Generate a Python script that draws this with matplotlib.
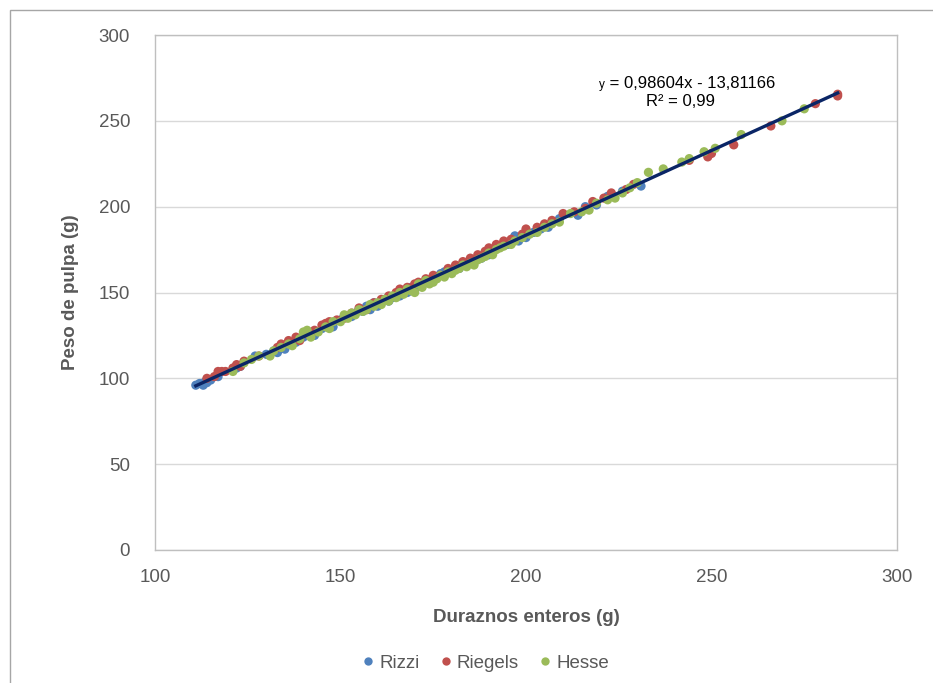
import matplotlib
matplotlib.use("Agg")
import matplotlib.pyplot as plt
from matplotlib.patches import Rectangle
from matplotlib.lines import Line2D
import numpy as np

plt.rcParams['font.family'] = ['Liberation Sans Narrow', 'Liberation Sans', 'DejaVu Sans']

rizzi_x = [111, 112, 113, 113.5, 114, 115, 117, 122, 123, 127, 130, 132, 133, 135, 138, 140, 142, 143, 145, 146,
           148, 150, 151, 153, 154, 156, 157, 158, 159, 160, 161, 162, 163, 164, 165, 166, 167, 168, 169, 170,
           171, 172, 173, 174, 175, 176, 177, 178, 179, 180, 181, 182, 183, 184, 185, 186, 188, 189, 190, 191,
           192, 193, 195, 197, 198, 200, 202, 204, 206, 209, 214, 216, 219, 222, 226, 231]
rizzi_y = [96, 97, 96, 98, 97.5, 99, 101, 106, 107, 113, 114, 116, 115, 117, 121, 124, 126, 125, 129, 131,
           130, 134, 136, 136, 138, 139, 142, 140, 144, 142, 145, 146, 145, 147, 149, 148, 151, 150, 153, 152,
           155, 154, 157, 156, 158, 159, 161, 162, 163, 162, 165, 164, 167, 166, 168, 169, 170, 173, 172, 175,
           176, 177, 178, 183, 180, 182, 185, 187, 188, 193, 195, 200, 201, 206, 209, 212]

riegels_x = [114, 116, 117, 118, 119, 121, 122, 123, 124, 128, 133, 134, 136, 138, 139, 141, 143, 145, 146, 147,
             149, 151, 153, 155, 157, 159, 161, 163, 165, 166, 168, 170, 171, 173, 175, 177, 179, 181, 183, 185,
             187, 189, 190, 192, 194, 196, 199, 200, 203, 205, 207, 210, 213, 216, 218, 221, 223, 227, 229, 244,
             249, 250, 256, 266, 278, 284, 284]
riegels_y = [100, 101, 104, 104, 104, 106, 108, 107, 110, 113, 118, 120, 122, 124, 122, 126, 128, 131, 132, 133,
             134, 135, 138, 141, 140, 144, 146, 148, 150, 152, 153, 155, 156, 158, 160, 160, 164, 166, 168, 170,
             172, 174, 176, 178, 180, 181, 184, 187, 188, 190, 192, 196, 197, 199, 203, 205, 208, 210, 213, 227,
             229, 231, 236, 247, 260, 264.5, 265.5]

hesse_x = [121, 124, 126, 128, 131, 132, 134, 136, 137, 139, 140, 141, 142, 144, 146, 147, 148, 150, 151, 152,
           153, 154, 155, 156, 157, 158, 159, 160, 161, 162, 163, 164, 165, 166, 167, 168, 169, 170, 171, 172,
           173, 174, 175, 176, 177, 178, 179, 180, 181, 182, 183, 184, 185, 186, 187, 188, 189, 190, 191, 192,
           193, 194, 196, 197, 199, 201, 203, 205, 207, 209, 212, 215, 217, 219, 222, 224, 226, 228, 230, 233,
           237, 242, 244, 248, 251, 258, 269, 275]
hesse_y = [104, 109, 111, 113, 113, 116, 118, 120, 119, 123, 127, 128, 124, 127, 130, 129, 133, 133, 137, 135,
           138, 137, 140, 139, 140, 143, 142, 144, 143, 146, 145, 148, 147, 150, 149, 152, 151, 150, 155, 153,
           157, 155, 156, 158, 160, 159, 162, 161, 163, 164, 166, 165, 167, 166, 169, 170, 171, 173, 172, 175,
           176, 177, 178, 180, 182, 184, 185, 188, 190, 191, 196, 197, 198, 202, 204, 205, 208, 211, 214, 220,
           222, 226, 228, 232, 234, 242, 250, 257]

series_names = ['Rizzi', 'Riegels', 'Hesse']
series_colors = ['#4F81BD', '#C0504D', '#9BBB59']
slope = 0.98604
intercept = -13.81166
trend_x = [111, 284]

fig = plt.figure(figsize=(9.33, 6.83), dpi=100)
# outer chart border
fig.patches.append(Rectangle((10/933, -0.1), 1.2, 1 - 10/683 + 0.1, transform=fig.transFigure,
                             fill=False, edgecolor='#A6A6A6', linewidth=1.0))
ax = fig.add_axes([155/933, 1 - 550/683, (897 - 155)/933, (550 - 35)/683])

for xs, ys, c in zip([rizzi_x, riegels_x, hesse_x], [rizzi_y, riegels_y, hesse_y], series_colors):
    ax.scatter(xs, ys, s=44, color=c, edgecolors='none', zorder=3)

tx = np.array(trend_x, dtype=float)
ax.plot(tx, slope * tx + intercept, color='#0A2566', linewidth=2.4, zorder=4)

ax.set_xlim(100, 300)
ax.set_ylim(0, 300)
ax.set_xticks([100, 150, 200, 250, 300])
ax.set_yticks([0, 50, 100, 150, 200, 250, 300])
ax.yaxis.grid(True, color='#D9D9D9', linewidth=1.0)
ax.set_axisbelow(True)
for sp in ax.spines.values():
    sp.set_color('#BFBFBF')
    sp.set_linewidth(1.0)
ax.tick_params(axis='both', length=0, labelsize=13.5, colors='#595959')
ax.tick_params(axis='x', pad=14)
ax.tick_params(axis='y', pad=18)

ax.set_xlabel('Duraznos enteros (g)', fontsize=13.5, fontweight='bold', color='#595959', labelpad=16)
ax.set_ylabel('Peso de pulpa (g)', fontsize=13.5, fontweight='bold', color='#595959', labelpad=14)

# trendline equation
eq_x = (605 - 155) / 742
ax.text(eq_x, 0.897, 'y', transform=ax.transAxes, fontsize=8.5, color='#000000', ha='right', va='baseline')
ax.text(eq_x, 0.897, ' = 0,98604x - 13,81166', transform=ax.transAxes, fontsize=12, color='#000000',
        ha='left', va='baseline')
ax.text((680 - 155) / 742, 0.862, 'R² = 0,99', transform=ax.transAxes, fontsize=12, color='#000000',
        ha='center', va='baseline')

handles = [Line2D([0], [0], marker='o', linestyle='none', markersize=6, markerfacecolor=c,
                  markeredgecolor='none') for c in series_colors]
fig.legend(handles, series_names, loc='center', bbox_to_anchor=(484/933, 1 - 663/683), ncol=3,
           frameon=False, fontsize=13.5, handlelength=1.0, handletextpad=0.1, columnspacing=0.9,
           labelcolor='#595959')

fig.savefig('out.png', dpi=100, facecolor='white')
